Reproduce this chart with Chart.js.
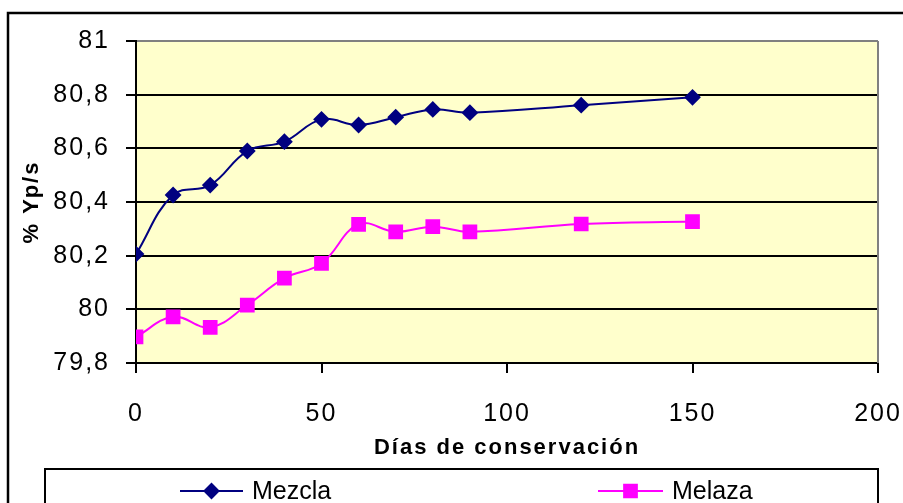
<!DOCTYPE html>
<html>
<head>
    <script src="https://cdn.jsdelivr.net/npm/chart.js@4.4.1/dist/chart.umd.min.js"></script>
    <style>
        html, body {
            margin: 0;
            padding: 0;
            background: white;
        }
        #wrap {
            width: 903px;
            height: 503px;
            position: relative;
        }
    </style>
</head>
<body>
    <div id="wrap">
        <canvas id="yieldChart"></canvas>
    </div>

    <script>
        // datos
        const dias = [0, 10, 20, 30, 40, 50, 60, 70, 80, 90, 120, 150];
        const mezcla = [80.206, 80.426, 80.463, 80.59, 80.625, 80.708, 80.687, 80.716, 80.745, 80.733, 80.761, 80.79];
        const melaza = [79.897, 79.972, 79.933, 80.016, 80.116, 80.171, 80.317, 80.289, 80.308, 80.289, 80.318, 80.327];
        const yTicks = [79.8, 80, 80.2, 80.4, 80.6, 80.8, 81];
        const yTickLabels = ['79,8', '80', '80,2', '80,4', '80,6', '80,8', '81'];
        const xTickLabels = ['0', '50', '100', '150', '200'];

        const FONT = "'Liberation Sans', Arial, sans-serif";
        Chart.defaults.font.family = FONT;
        Chart.defaults.color = '#000';

        const toPoints = (ys) => dias.map((d, i) => ({ x: d, y: ys[i] }));

        // fondo, marcos y leyenda propia
        const frame = {
            id: 'frame',
            beforeDraw(chart) {
                const { ctx, chartArea: a } = chart;
                ctx.letterSpacing = '2px'; // el original sale estirado a lo ancho
                ctx.save();
                ctx.fillStyle = '#FFFFCC';
                ctx.fillRect(a.left, a.top, a.right - a.left, a.bottom - a.top);
                ctx.restore();
            },
            afterDatasetsDraw(chart) {
                const { ctx, chartArea: a } = chart;
                ctx.save();
                ctx.strokeStyle = '#808080';
                ctx.lineWidth = 2;
                ctx.beginPath();
                ctx.moveTo(a.right, a.top);
                ctx.lineTo(a.right, a.bottom);
                ctx.stroke();
                ctx.restore();
            },
            afterDraw(chart) {
                const ctx = chart.ctx;
                ctx.save();
                ctx.letterSpacing = '0px';
                ctx.strokeStyle = '#000';
                ctx.lineWidth = 2.5;
                ctx.strokeRect(8, 13, 920, 520);
                ctx.lineWidth = 2;
                ctx.strokeRect(45, 469, 833, 60);

                const slots = [{ x0: 180, x1: 243, tx: 252 }, { x0: 598, x1: 663, tx: 672 }];
                const ly = 491;
                chart.data.datasets.forEach((ds, i) => {
                    const s = slots[i];
                    ctx.strokeStyle = ds.borderColor;
                    ctx.lineWidth = 2;
                    ctx.beginPath();
                    ctx.moveTo(s.x0, ly);
                    ctx.lineTo(s.x1, ly);
                    ctx.stroke();
                    ctx.fillStyle = ds.pointBackgroundColor;
                    ctx.strokeStyle = ds.borderColor;
                    Chart.helpers.drawPoint(ctx, {
                        pointStyle: ds.pointStyle,
                        radius: ds.pointRadius,
                        rotation: 0,
                        borderWidth: 1
                    }, (s.x0 + s.x1) / 2, ly);
                    ctx.fillStyle = '#000';
                    ctx.font = '25px ' + FONT;
                    ctx.textBaseline = 'middle';
                    ctx.textAlign = 'left';
                    ctx.fillText(ds.label, s.tx, ly + 1);
                });
                ctx.restore();
            }
        };

        const ctx = document.getElementById('yieldChart').getContext('2d');
        new Chart(ctx, {
            type: 'line',
            data: {
                datasets: [
                    {
                        label: 'Mezcla',
                        data: toPoints(mezcla),
                        borderColor: '#000080',
                        backgroundColor: '#000080',
                        pointBackgroundColor: '#000080',
                        pointStyle: 'rectRot',
                        pointRadius: 7,
                        borderWidth: 2,
                        tension: 0.4
                    },
                    {
                        label: 'Melaza',
                        data: toPoints(melaza),
                        borderColor: '#FF00FF',
                        backgroundColor: '#FF00FF',
                        pointBackgroundColor: '#FF00FF',
                        pointStyle: 'rect',
                        pointRadius: 9,
                        borderWidth: 2,
                        tension: 0.4
                    }
                ]
            },
            options: {
                responsive: true,
                maintainAspectRatio: false,
                animation: false,
                layout: {
                    padding: { left: 0, top: 41, right: 25, bottom: 0 }
                },
                plugins: {
                    legend: { display: false },
                    tooltip: { enabled: false }
                },
                scales: {
                    x: {
                        type: 'linear',
                        min: 0,
                        max: 200,
                        afterFit: (s) => {
                            s.height = 140;
                            s.paddingLeft = 0;
                            s.paddingRight = 0;
                        },
                        afterBuildTicks: (s) => {
                            s.ticks = xTickLabels.map((t) => ({ value: Number(t) }));
                        },
                        ticks: {
                            font: { size: 25 },
                            padding: 26,
                            maxRotation: 0,
                            callback: (v, i) => xTickLabels[i]
                        },
                        grid: {
                            drawOnChartArea: false,
                            drawTicks: true,
                            tickLength: 10,
                            color: '#000',
                            lineWidth: 2
                        },
                        border: { color: '#000', width: 2 },
                        title: {
                            display: true,
                            text: 'Días de conservación',
                            font: { size: 22, weight: 'bold' },
                            padding: { top: 0, bottom: 42 }
                        }
                    },
                    y: {
                        min: 79.8,
                        max: 81,
                        afterFit: (s) => {
                            s.width = 136;
                            s.paddingTop = 0;
                            s.paddingBottom = 0;
                        },
                        afterBuildTicks: (s) => {
                            s.ticks = yTicks.map((v) => ({ value: v }));
                        },
                        ticks: {
                            font: { size: 25 },
                            padding: 16,
                            callback: (v, i) => yTickLabels[i]
                        },
                        grid: {
                            color: (c) => (c.tick && c.tick.value === 81 ? '#808080' : '#000'),
                            lineWidth: 2,
                            tickLength: 10,
                            tickColor: '#000'
                        },
                        border: { color: '#000', width: 2 },
                        title: {
                            display: true,
                            text: '% Yp/s',
                            font: { size: 22, weight: 'bold' },
                            padding: { top: 19, bottom: 0 }
                        }
                    }
                }
            },
            plugins: [frame]
        });
    </script>
</body>
</html>
